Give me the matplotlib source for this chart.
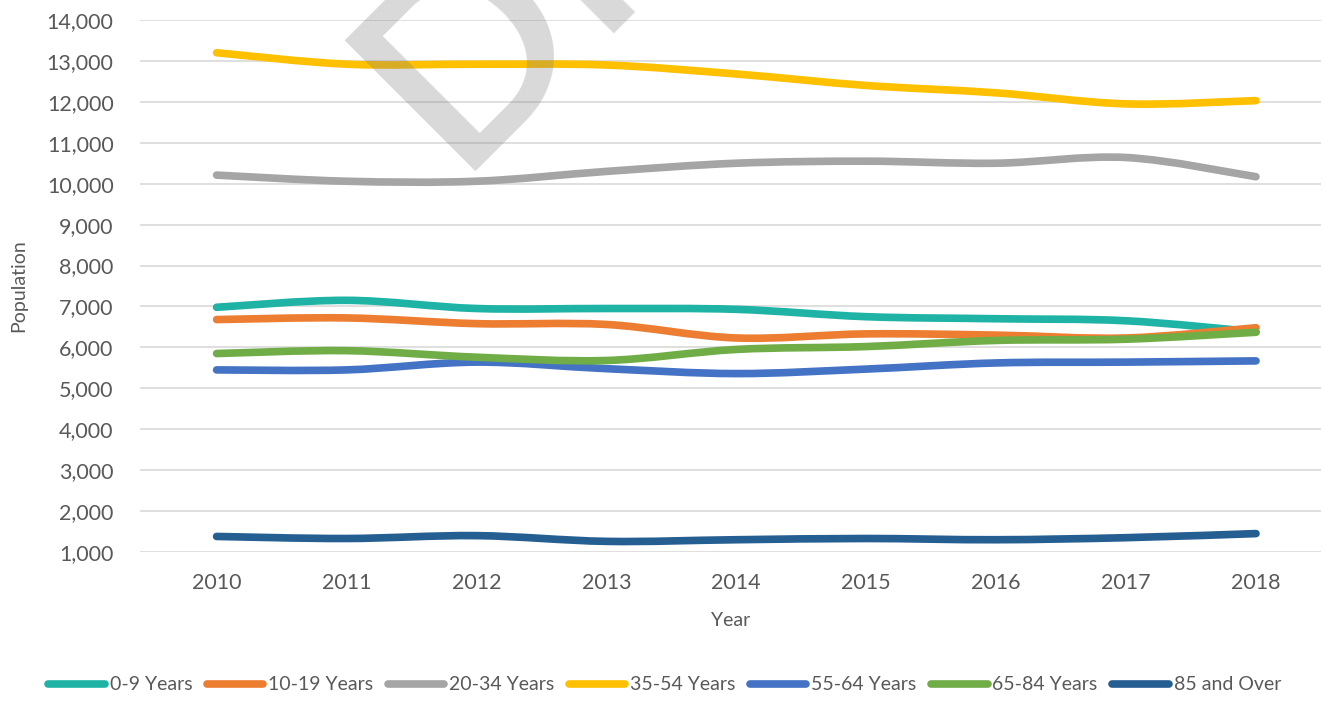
import matplotlib
matplotlib.use("Agg")
import matplotlib.pyplot as plt
import numpy as np
from matplotlib.path import Path
from matplotlib.patches import PathPatch
from matplotlib.lines import Line2D
from matplotlib.ticker import FuncFormatter

plt.rcParams['font.family'] = ['Lato', 'DejaVu Sans']

years = [2010, 2011, 2012, 2013, 2014, 2015, 2016, 2017, 2018]
labels = ["0-9 Years", "10-19 Years", "20-34 Years", "35-54 Years",
          "55-64 Years", "65-84 Years", "85 and Over"]
age_0_9 = [6980, 7150, 6950, 6950, 6930, 6750, 6700, 6650, 6380]
age_10_19 = [6680, 6720, 6580, 6560, 6230, 6330, 6300, 6230, 6480]
age_20_34 = [10210, 10060, 10060, 10300, 10500, 10550, 10500, 10640, 10170]
age_35_54 = [13200, 12920, 12920, 12900, 12680, 12400, 12220, 11950, 12030]
age_55_64 = [5450, 5450, 5640, 5480, 5360, 5470, 5620, 5640, 5670]
age_65_84 = [5850, 5920, 5760, 5680, 5950, 6020, 6170, 6200, 6370]
age_85 = [1380, 1330, 1400, 1260, 1300, 1330, 1300, 1350, 1450]
series = [age_0_9, age_10_19, age_20_34, age_35_54, age_55_64, age_65_84, age_85]
colors = ["#1fb3a6", "#ed7d31", "#a5a5a5", "#ffc000", "#4472c4", "#70ad47", "#255e91"]


def smooth_path(xs, ys):
    # excel-like smoothed line: catmull-rom segments as cubic beziers
    p = np.column_stack([xs, ys]).astype(float)
    ext = np.vstack([p[0], p, p[-1]])
    verts = [p[0]]
    codes = [Path.MOVETO]
    for i in range(len(p) - 1):
        p0, p1, p2, p3 = ext[i], ext[i + 1], ext[i + 2], ext[i + 3]
        c1 = p1 + (p2 - p0) / 6.0
        c2 = p2 - (p3 - p1) / 6.0
        verts += [c1, c2, p2]
        codes += [Path.CURVE4] * 3
    return Path(verts, codes)


fig = plt.figure(figsize=(13.24, 7.04), dpi=100)
ax = fig.add_axes([0.1057, 0.2159, 0.892, 0.7557])

for vals, c in zip(series, colors):
    ax.add_patch(PathPatch(smooth_path(years, vals), facecolor='none', edgecolor=c,
                           lw=5.5, capstyle='round', joinstyle='round', zorder=3))

ax.set_xlim(2009.41, 2018.5)
ax.set_ylim(1000, 14000)
ax.set_xticks(years)
ax.set_yticks(range(1000, 14001, 1000))
ax.yaxis.set_major_formatter(FuncFormatter(lambda v, _: f"{int(v):,}"))
ax.grid(axis='y', color='#d9d9d9', lw=1.2)
ax.set_axisbelow(True)
for s in ax.spines.values():
    s.set_visible(False)
ax.tick_params(axis='both', length=0, labelsize=15.5, labelcolor='#595959')
ax.tick_params(axis='x', pad=15)
ax.tick_params(axis='y', pad=19)
ax.set_xlabel("Year", fontsize=14, color='#595959', labelpad=14)
ax.set_ylabel("Population", fontsize=14, color='#595959', labelpad=14)

handles = [Line2D([0], [0], color=c, lw=5.5, solid_capstyle='round') for c in colors]
fig.legend(handles, labels, loc='center', bbox_to_anchor=(0.502, 0.027), ncol=7,
           frameon=False, fontsize=14, handlelength=2.9, handletextpad=0.25,
           columnspacing=0.75, labelcolor='#595959')

fig.text(0.343, 0.758, "DRAFT", rotation=45, rotation_mode='anchor', ha='left',
         va='baseline', fontsize=185, fontweight='semibold', color='#808080',
         alpha=0.3, zorder=10)

fig.savefig("out.png", dpi=100)
